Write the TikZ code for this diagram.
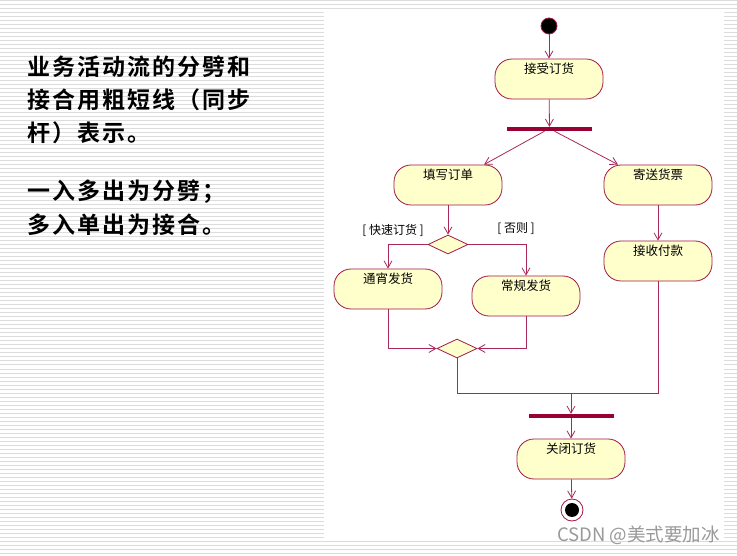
\documentclass[tikz,border=0pt]{standalone}
\usepackage{fontspec}
\usetikzlibrary{arrows.meta,shapes.geometric}
\newfontfamily\cjk{Noto Sans CJK SC}
\newfontfamily\cjknote[LetterSpace=9]{Noto Sans CJK SC Bold}
\definecolor{umlLine}{HTML}{A8285A}
\definecolor{umlBorder}{HTML}{A01848}
\definecolor{umlFill}{HTML}{FFFFCC}
\definecolor{umlBar}{HTML}{990033}
\definecolor{stripeGrey}{HTML}{DCDCDC}
\definecolor{markGrey}{HTML}{999999}

\tikzset{
  activity/.style={draw=umlBorder, fill=umlFill, line width=0.8pt,
    rounded corners=17pt, minimum width=108pt, inner xsep=2pt, inner ysep=3pt,
    text height=11.5pt, text depth=22.5pt, font=\cjk\fontsize{12.5}{14}\selectfont},
  decision/.style={diamond, draw=umlBorder, fill=umlFill, line width=0.8pt,
    minimum width=40pt, minimum height=19pt, inner sep=0pt},
  syncbar/.style={fill=umlBar, minimum width=85pt, minimum height=4pt, inner sep=0pt},
  startstate/.style={circle, fill=black, draw=umlBorder, line width=0.8pt,
    minimum size=16pt, inner sep=0pt},
  endstate/.style={circle, fill=white, draw=umlBorder, line width=0.8pt,
    minimum size=22pt, inner sep=0pt,
    path picture={\fill[black] (path picture bounding box.center) circle (7pt);}},
  flowline/.style={draw=umlLine, line width=0.8pt},
  flow/.style={flowline, -{Straight Barb[length=7pt,width=8pt]}},
  guard/.style={font=\cjk\fontsize{12}{14}\selectfont, inner sep=0pt},
  note/.style={font=\cjknote\fontsize{23}{33}\selectfont, anchor=base west, inner sep=0pt},
}

\begin{document}
\begin{tikzpicture}[x=1pt, y=-1pt]

% --- BACKGROUND ---
\useasboundingbox (0,0) rectangle (737,556);
\fill[white] (0,0) rectangle (737,556);
\foreach \sy in {1,5,...,555}
  \draw[stripeGrey, line width=1pt] (0,\sy) -- (737,\sy);
\fill[white] (324,11) rectangle (724,539);

% --- NOTE ON THE LEFT ---
\foreach \ny/\ntxt [count=\k] in {76/业务活动流的分劈和, 109/接合用粗短线（同步,
    142/杆）表示。, 200/一入多出为分劈；, 234/多入单出为接合。}
  \node[note] (note\k) at (27,\ny) {\ntxt};

% --- STATES AND ACTIVITIES ---
\node[startstate] (start) at (549,26) {};
\node[activity] (accept) at (549,79) {接受订货};
\node[syncbar] (fork) at (549.5,129) {};
\node[activity] (fill) at (448,185) {填写订单};
\node[activity] (ship) at (658,185) {寄送货票};
\node[activity] (pay) at (658,261) {接收付款};
\node[decision] (dec1) at (448,244.5) {};
\node[activity] (overnight) at (388,289) {通宵发货};
\node[activity] (regular) at (526,296) {常规发货};
\node[decision] (dec2) at (457,348.5) {};
\coordinate (merge) at (571,393);
\node[syncbar] (join) at (571,416) {};
\node[activity] (close) at (571,459) {关闭订货};
\node[endstate] (end) at (572,510) {};

% --- GUARDS ---
\node[guard] (fast) at (393,230) {[ 快速订货 ]};
\node[guard] (other) at (516,229) {[ 否则 ]};

% --- TRANSITIONS ---
\draw[flow] (start) -- (accept);
\draw[flow] (accept) -- (fork);
\draw[flow] ([xshift=-5pt]fork.south) -- ([xshift=36pt]fill.north);
\draw[flow] ([xshift=5pt]fork.south) -- ([xshift=-40pt]ship.north);
\draw[flow] (ship) -- (pay);
\draw[flow] (fill) -- (dec1);
\draw[flow] (dec1.west) -| (overnight.north);
\draw[flow] (dec1.east) -| (regular.north);
\draw[flow] (overnight.south) |- (dec2.west);
\draw[flow] (regular.south) |- (dec2.east);
\draw[flowline] (dec2.south) |- (merge);
\draw[flowline] (pay.south) |- (merge);
\draw[flow] (merge) -- (join.north);
\draw[flow] (join) -- (close);
\draw[flow] (close) -- (end);

% --- WATERMARK ---
\node[font=\cjk\fontsize{18.5}{20}\selectfont, text=markGrey, anchor=base west, inner sep=0pt]
  (mark) at (557,541) {CSDN @美式要加冰};

\end{tikzpicture}
\end{document}
